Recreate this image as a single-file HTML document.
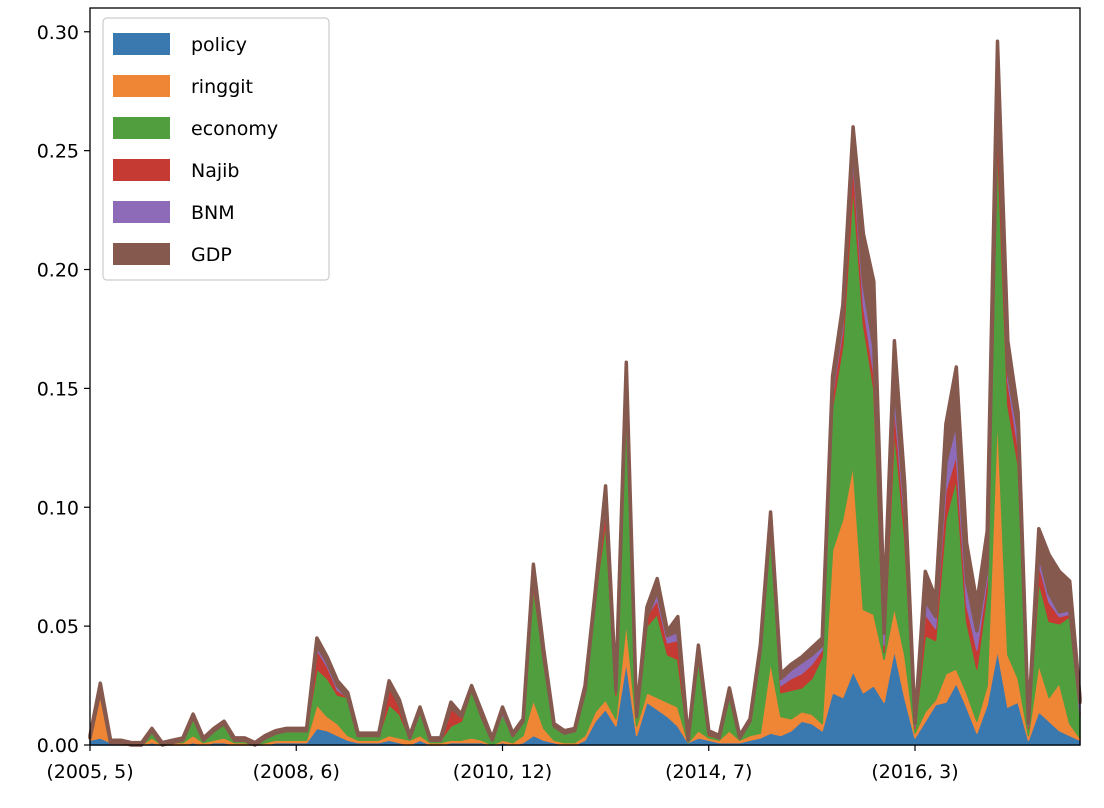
<!DOCTYPE html>
<html><head><meta charset="utf-8"><style>
body{margin:0;background:#fff}
svg{display:block;font-family:"DejaVu Sans","Liberation Sans",sans-serif}
</style></head><body>
<svg id="chart" width="1104" height="808" viewBox="0 0 1104 808" xmlns="http://www.w3.org/2000/svg">
<g id="areas"></g>
<rect x="90" y="8" width="990" height="737" fill="none" stroke="#000" stroke-width="1.3"/>
<g id="yaxis"></g>
<g id="xaxis"></g>
<g id="legend"></g>
</svg>
<script>
const seriesNames=["policy","ringgit","economy","Najib","BNM","GDP"];
const colors=["#3a78b0","#ef8636","#519e3e","#c53a32","#8d6bb8","#85594e"];
const xTickLabels=["(2005, 5)","(2008, 6)","(2010, 12)","(2014, 7)","(2016, 3)"];
const xTickIndex=[0,20,40,60,80];
const yTicks=[0,0.05,0.10,0.15,0.20,0.25,0.30];
const policy=[.002,.003,.001,0,0,0,.001,0,0,0, .001,0,.001,.001,0,0,0,0,.001,.001, .001,.001,.007,.006,.004,.002,.001,.001,.001,.002, .001,0,.002,0,0,.001,.001,.001,.001,0, .001,0,.001,.004,.002,.001,0,0,.002,.010, .015,.008,.035,.004,.018,.015,.012,.008,.001,.003, .002,.001,.001,.001,.002,.003,.005,.004,.006,.010, .009,.006,.022,.020,.031,.022,.025,.018,.040,.020, .003,.010,.017,.018,.026,.016,.005,.017,.040,.016, .018,.002,.014,.010,.006,.004,.002];
const ringgit=[.001,.018,0,.001,0,0,.002,0,.001,.001, .003,.001,.001,.002,.001,.001,0,.001,.001,.001, .001,.001,.010,.006,.005,.002,.001,.001,.001,.002, .002,.002,.002,.001,.001,.001,.001,.002,.001,0, .001,.001,.003,.015,.005,.001,.001,.001,.002,.004, .004,.003,.017,.004,.004,.005,.006,.008,0,.003, .001,.001,.005,.001,.002,.002,.030,.008,.005,.004, .004,.003,.060,.075,.087,.035,.030,.018,.018,.018, .002,.004,.002,.012,.006,.006,.005,.008,.100,.022, .010,.002,.020,.010,.020,.005,.001];
const economy=[0,.002,0,0,0,0,.003,0,0,.001, .008,.001,.004,.006,.001,.001,0,.002,.003,.004, .004,.004,.015,.016,.012,.016,.002,.002,.002,.013, .010,.001,.010,.001,.001,.006,.008,.020,.010,.002, .011,.003,.006,.048,.028,.006,.004,.005,.019,.048, .075,.010,.092,.004,.028,.035,.020,.020,.001,.030, .001,.001,.015,.001,.006,.035,.055,.010,.012,.010, .015,.028,.060,.073,.118,.120,.095,.003,.075,.050, .002,.032,.025,.065,.080,.030,.022,.040,.115,.105, .090,.003,.035,.032,.025,.045,.010];
const najib=[0,0,0,0,0,0,0,0,0,0, 0,0,0,0,0,0,0,0,0,0, 0,0,.008,.005,.002,0,0,0,0,.008, .004,0,.001,0,0,.008,.002,.001,0,0, 0,0,0,.002,.002,0,0,0,0,.001, .006,.002,.008,0,.004,.006,.005,.008,0,.003, .001,0,.001,0,0,0,.002,.003,.005,.006, .006,.003,.005,.007,.010,.008,.006,.003,.010,.006, .001,.009,.005,.012,.010,.007,.008,.005,.012,.010, .007,.001,.007,.008,.003,.001,0];
const bnm=[0,0,0,0,0,0,0,0,0,0, 0,0,0,0,0,0,0,0,0,0, 0,0,.002,.002,.002,0,0,0,0,0, 0,0,0,0,0,0,0,0,0,0, .002,0,0,.004,0,0,0,0,0,0, .006,0,.004,0,0,.004,.003,.004,0,.001, 0,0,0,0,0,0,.003,.003,.004,.005, .004,.002,.004,.005,.008,.010,.012,.005,.012,.008, .001,.006,.005,.012,.015,.010,.008,.005,.010,.005, .008,.001,.005,.004,.002,.002,.005];
const gdp=[.001,.003,.001,.001,.001,.001,.001,.001,.001,.001, .001,.001,.001,.001,.001,.001,.001,.001,.001,.001, .001,.001,.003,.002,.002,.002,.001,.001,.001,.002, .002,.001,.001,.001,.001,.002,.001,.001,.002,.001, .001,.001,.001,.003,.003,.001,.001,.001,.002,.002, .003,.002,.005,.001,.004,.005,.002,.006,.001,.002, .001,.001,.002,.001,.001,.002,.003,.002,.002,.002, .003,.003,.004,.005,.006,.020,.027,.012,.015,.008, .001,.012,.008,.016,.022,.016,.012,.015,.019,.012, .007,.001,.010,.016,.017,.012,.002];
const series=[policy,ringgit,economy,najib,bnm,gdp];

const L=90,R=1080,T=8,B=745,yMax=0.31;
const n=policy.length;
const xs=i=>L+(R-L)*i/(n-1);
const ys=v=>B-(B-T)*v/yMax;
const NS="http://www.w3.org/2000/svg";
const mk=(tag,attrs,parent)=>{const e=document.createElementNS(NS,tag);for(const k in attrs)e.setAttribute(k,attrs[k]);parent.appendChild(e);return e;};

const areas=document.getElementById('areas');
let base=new Array(n).fill(0);
series.forEach((s,si)=>{
  const top=base.map((b,i)=>b+s[i]);
  let pts=[];
  for(let i=0;i<n;i++)pts.push(xs(i).toFixed(1)+","+ys(top[i]).toFixed(1));
  for(let i=n-1;i>=0;i--)pts.push(xs(i).toFixed(1)+","+ys(base[i]).toFixed(1));
  const p=mk('polygon',{points:pts.join(" "),fill:colors[si],stroke:colors[si],'stroke-width':si===5?3.5:1.5,'stroke-linejoin':'round'},areas);
  
  
  base=top;
});

const ya=document.getElementById('yaxis');
yTicks.forEach(v=>{
  const y=ys(v);
  const l=mk('line',{x1:L-6,x2:L,y1:y,y2:y,stroke:'#000','stroke-width':1.2},ya);
  
  
  const t=mk('text',{x:L-11,y:y+7,'text-anchor':'end','font-size':19,fill:'#000'},ya);
  t.textContent=v.toFixed(2);
  
  
});
const xa=document.getElementById('xaxis');
xTickIndex.forEach((idx,k)=>{
  const x=xs(idx);
  const l=mk('line',{x1:x,x2:x,y1:B,y2:B+6,stroke:'#000','stroke-width':1.2},xa);
  
  
  const t=mk('text',{x:x,y:B+33,'text-anchor':'middle','font-size':19,fill:'#000'},xa);
  t.textContent=xTickLabels[k];
  
  
});
const lg=document.getElementById('legend');
const box=mk('rect',{x:103,y:18,width:226,height:262,rx:4,fill:'#fff','fill-opacity':0.8,stroke:'#ccc','stroke-width':1.2},lg);


seriesNames.forEach((nm,i)=>{
  const cy=44+42*i;
  const g=mk('g',{},lg);
  
  
  mk('rect',{x:113,y:cy-11,width:57,height:22,fill:colors[i]},g);
  const t=mk('text',{x:191,y:cy+7,'font-size':19,fill:'#000'},g);
  t.textContent=nm;
});
</script>
</body></html>
